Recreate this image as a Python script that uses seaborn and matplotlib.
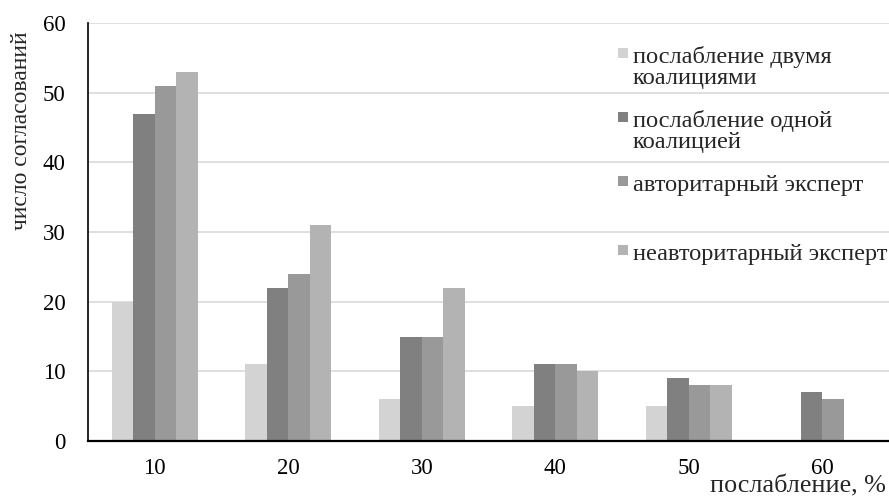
import matplotlib
matplotlib.use("Agg")
import matplotlib.pyplot as plt
import seaborn as sns
import pandas as pd
import numpy as np
from matplotlib.patches import Rectangle
from matplotlib.legend_handler import HandlerBase

categories = ["10", "20", "30", "40", "50", "60"]
series_names = ["послабление двумя\nкоалициями", "послабление одной\nкоалицией",
                "авторитарный эксперт\n ", "неавторитарный эксперт\n "]
two_coalitions = [20, 11, 6, 5, 5, np.nan]
one_coalition = [47, 22, 15, 11, 9, 7]
authoritarian = [51, 24, 15, 11, 8, 6]
non_authoritarian = [53, 31, 22, 10, 8, np.nan]
colors = ["#D3D3D3", "#808080", "#999999", "#B3B3B3"]
y_ticks = [0, 10, 20, 30, 40, 50, 60]

rows = []
for name, vals in zip(series_names, [two_coalitions, one_coalition, authoritarian, non_authoritarian]):
    for c, v in zip(categories, vals):
        rows.append({"cat": c, "series": name, "value": v})
df = pd.DataFrame(rows)

sns.set_style("white")
plt.rcParams["font.family"] = ["Liberation Serif", "DejaVu Serif"]

fig = plt.figure(figsize=(8.89, 4.99), dpi=100)
ax = fig.add_axes([88/889, 1-441/499, 801/889, (441-23)/499])

sns.barplot(data=df, x="cat", y="value", hue="series", order=categories,
            hue_order=series_names, palette=colors, width=0.645,
            saturation=1, ax=ax, legend=False, linewidth=0, edgecolor="none")

ax.set_ylim(0, 60)
ax.set_xlim(-0.5, 5.5)
ax.set_yticks(y_ticks)
ax.yaxis.grid(True, color="#D9D9D9", linewidth=1.2)
ax.set_axisbelow(True)
for s in ["top", "right"]:
    ax.spines[s].set_visible(False)
ax.spines["left"].set_color("black")
ax.spines["left"].set_linewidth(1.2)
ax.spines["bottom"].set_color("black")
ax.spines["bottom"].set_linewidth(1.6)
ax.tick_params(axis="both", length=0, labelsize=16.5, colors="black")
ax.tick_params(axis="x", pad=12)
ax.tick_params(axis="y", pad=16)
ax.set_ylabel("число согласований", fontsize=17)
ax.yaxis.set_label_coords(-0.070, 0.742)
ax.set_xlabel("")
fig.text(886/889, 1-486.5/499, "послабление, %", ha="right", va="center", fontsize=18.8)


class TopSquare(HandlerBase):
    def __init__(self, shift=10.0, **kw):
        super().__init__(**kw)
        self.shift = shift

    def create_artists(self, legend, orig_handle, xdescent, ydescent,
                       width, height, fontsize, trans):
        size = 7.2
        x = -xdescent + width - size
        y = -ydescent + height / 2 - size / 2 + self.shift
        r = Rectangle((x, y), size, size, facecolor=orig_handle.get_facecolor(),
                      edgecolor="none", transform=trans)
        return [r]


handles = [Rectangle((0, 0), 1, 1, facecolor=c) for c in colors]
hmap = {h: TopSquare(shift=10.0) for h in handles}
hmap[handles[2]] = TopSquare(shift=12.2)
leg = fig.legend(handles, series_names, loc="upper left",
                 bbox_to_anchor=(613/889, 1-46/499), frameon=False, fontsize=17.6,
                 handlelength=0.62, handletextpad=0.2, labelspacing=0.88,
                 borderaxespad=0, borderpad=0, handler_map=hmap)
texts = leg.get_texts()
for t in texts:
    t.set_linespacing(0.99)
texts[2].set_linespacing(1.35)

fig.savefig("out.png", dpi=100)
